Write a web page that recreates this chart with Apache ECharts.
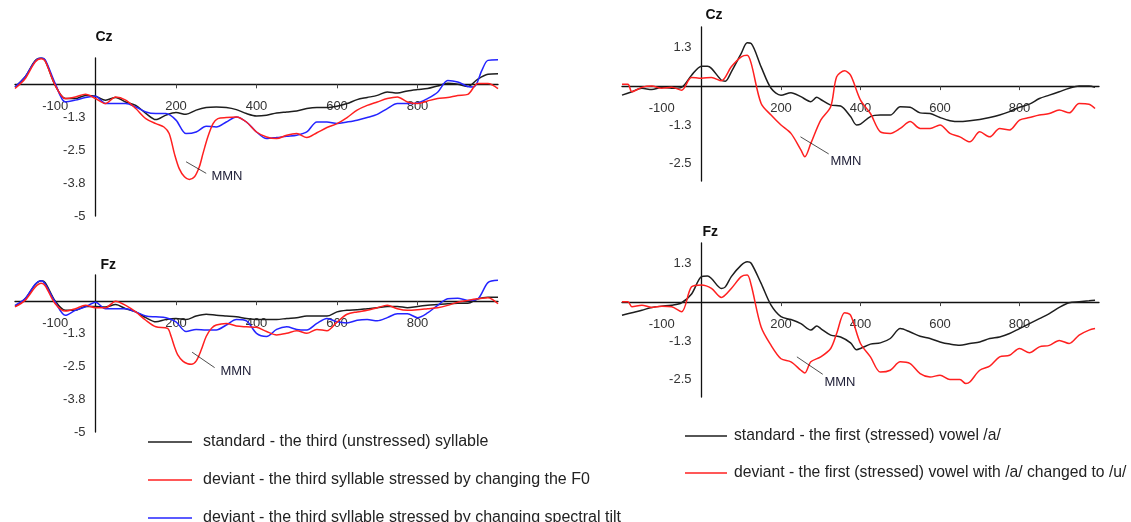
<!DOCTYPE html>
<html>
<head>
<meta charset="utf-8">
<script src="https://cdn.jsdelivr.net/npm/echarts@6/dist/echarts.min.js"></script>
<style>html,body{margin:0;padding:0;background:#fff}#c{width:1131px;height:522px}</style>
</head>
<body>
<div id="c"></div>
<script>
// ---------- names ----------
const leftNames = [
  'standard - the third (unstressed) syllable',
  'deviant - the third syllable stressed by changing the F0',
  'deviant - the third syllable stressed by changing spectral tilt'
];
const rightNames = [
  'standard - the first (stressed) vowel /a/',
  'deviant - the first (stressed) vowel with /a/ changed to /u/'
];
const panelTitles = ['Cz', 'Fz', 'Cz', 'Fz'];

// ---------- tick labels ----------
const xTickValues = [-100, 200, 400, 600, 800];
const xTickMarks = [200, 400, 600, 800];
const yTickValuesLeft = [-5, -3.75, -2.5, -1.25];
const yTickLabelsLeft = ['-5', '-3.8', '-2.5', '-1.3'];
const yTickValuesRight = [-2.5, -1.25, 1.25];
const yTickLabelsRight = ['-2.5', '-1.3', '1.3'];

// ---------- data: [time ms, amplitude] ----------
const leftCzStandard = [[-200,-0.1],[-175,0.28],[-150,0.9],[-135,1.0],[-125,0.9],[-100,-0.04],[-75,-0.54],[-50,-0.54],[-25,-0.42],[0,-0.45],[25,-0.6],[50,-0.5],[75,-0.67],[100,-0.8],[125,-1.1],[150,-1.34],[175,-1.17],[200,-1.07],[225,-1.14],[250,-0.98],[275,-0.88],[300,-0.86],[325,-0.88],[350,-0.96],[375,-1.11],[400,-1.2],[425,-1.17],[450,-1.09],[475,-1.05],[500,-1.01],[525,-0.92],[550,-0.88],[575,-0.88],[600,-0.83],[625,-0.73],[650,-0.58],[675,-0.5],[700,-0.42],[725,-0.29],[750,-0.33],[775,-0.25],[800,-0.2],[825,-0.16],[850,-0.06],[875,0.04],[900,0],[925,-0.08],[950,0.2],[975,0.38],[1000,0.4]];
const leftCzF0 = [[-200,-0.16],[-175,0.21],[-150,0.85],[-135,0.97],[-125,0.88],[-100,-0.04],[-75,-0.54],[-50,-0.48],[-25,-0.38],[0,-0.54],[25,-0.73],[50,-0.48],[75,-0.6],[100,-0.92],[125,-1.3],[150,-1.49],[170,-1.62],[183,-1.87],[196,-2.63],[208,-3.2],[221,-3.51],[233,-3.61],[246,-3.51],[258,-3.13],[267,-2.63],[279,-2.0],[292,-1.49],[304,-1.3],[325,-1.26],[350,-1.24],[375,-1.43],[400,-1.81],[425,-2.0],[450,-2.06],[475,-1.93],[500,-1.87],[525,-2.02],[550,-1.84],[575,-1.64],[600,-1.49],[625,-1.26],[650,-0.98],[675,-0.8],[700,-0.67],[725,-0.54],[750,-0.48],[775,-0.67],[800,-0.73],[825,-0.63],[850,-0.54],[875,-0.5],[900,-0.42],[925,-0.38],[950,0.03],[975,0.03],[1000,-0.16]];
const leftCzTilt = [[-200,-0.1],[-175,0.28],[-150,0.88],[-135,1.0],[-125,0.93],[-100,0.03],[-75,-0.67],[-50,-0.6],[-25,-0.5],[0,-0.45],[25,-0.73],[50,-0.73],[75,-0.73],[100,-0.86],[125,-1.05],[150,-1.11],[175,-1.11],[200,-1.36],[225,-1.87],[250,-1.81],[275,-1.59],[300,-1.62],[325,-1.43],[350,-1.24],[375,-1.43],[400,-1.81],[425,-2.06],[450,-2.02],[475,-1.97],[500,-1.93],[525,-1.81],[550,-1.43],[575,-1.43],[600,-1.49],[625,-1.43],[650,-1.36],[675,-1.26],[700,-1.14],[725,-0.92],[750,-0.73],[775,-0.73],[800,-0.71],[825,-0.54],[850,-0.3],[875,0.15],[900,0.09],[925,-0.08],[940,-0.1],[960,0.53],[975,0.91],[1000,0.93]];

const leftFzStandard = [[-200,-0.2],[-175,0.09],[-150,0.63],[-135,0.78],[-125,0.71],[-100,0],[-75,-0.35],[-50,-0.35],[-25,-0.2],[0,-0.2],[25,-0.22],[50,-0.13],[75,-0.29],[100,-0.41],[125,-0.63],[150,-0.79],[175,-0.7],[200,-0.66],[225,-0.7],[250,-0.57],[275,-0.5],[300,-0.54],[325,-0.57],[350,-0.6],[375,-0.66],[400,-0.7],[425,-0.7],[450,-0.7],[475,-0.66],[500,-0.63],[525,-0.57],[550,-0.57],[575,-0.57],[600,-0.41],[625,-0.35],[650,-0.33],[675,-0.29],[700,-0.25],[725,-0.2],[750,-0.2],[775,-0.25],[800,-0.2],[825,-0.16],[850,-0.13],[875,-0.1],[900,-0.08],[925,-0.08],[950,0.09],[975,0.15],[1000,0.15]];
const leftFzF0 = [[-200,-0.22],[-175,0.03],[-150,0.53],[-135,0.68],[-125,0.59],[-100,-0.1],[-75,-0.38],[-50,-0.29],[-25,-0.16],[0,-0.25],[25,-0.25],[50,0],[75,-0.16],[100,-0.41],[125,-0.73],[150,-0.98],[179,-1.04],[188,-1.35],[196,-1.73],[204,-2.04],[217,-2.29],[229,-2.39],[238,-2.41],[250,-2.29],[263,-1.85],[275,-1.35],[288,-1.04],[300,-0.91],[325,-0.85],[350,-0.95],[375,-0.98],[400,-1.0],[425,-1.16],[450,-1.29],[475,-1.23],[500,-1.13],[525,-1.23],[550,-1.08],[575,-1.13],[600,-0.8],[625,-0.5],[650,-0.41],[675,-0.35],[700,-0.25],[725,-0.16],[750,-0.29],[775,-0.35],[800,-0.33],[825,-0.29],[850,-0.25],[875,-0.16],[900,-0.04],[925,0.03],[950,0.09],[975,0.13],[1000,-0.1]];
const leftFzTilt = [[-200,-0.16],[-175,0.09],[-150,0.65],[-135,0.78],[-125,0.65],[-100,-0.04],[-75,-0.54],[-50,-0.35],[-25,-0.22],[0,-0.04],[25,-0.29],[50,-0.29],[75,-0.29],[100,-0.41],[125,-0.57],[150,-0.6],[175,-0.63],[200,-0.79],[225,-1.16],[250,-1.08],[275,-1.1],[300,-1.1],[325,-0.91],[350,-0.7],[375,-0.75],[400,-1.23],[425,-1.35],[450,-1.08],[475,-0.98],[500,-1.08],[525,-1.1],[550,-0.85],[575,-0.66],[600,-0.79],[625,-0.83],[650,-0.73],[675,-0.7],[700,-0.75],[725,-0.63],[750,-0.48],[775,-0.48],[800,-0.63],[825,-0.45],[850,-0.16],[875,0.09],[900,0.11],[925,0.03],[950,0.09],[975,0.71],[1000,0.8]];

const rightCzStandard = [[-200,-0.29],[-175,-0.18],[-150,-0.07],[-125,-0.11],[-100,-0.04],[-75,-0.07],[-50,-0.04],[-25,0.35],[0,0.64],[15,0.64],[25,0.57],[50,0.19],[60,0.16],[75,0.46],[100,1.05],[115,1.39],[125,1.37],[150,0.62],[175,-0.07],[200,-0.29],[225,-0.21],[250,-0.34],[275,-0.5],[290,-0.36],[300,-0.43],[325,-0.61],[350,-0.64],[375,-0.98],[390,-1.25],[400,-1.22],[425,-0.98],[450,-0.93],[475,-0.93],[500,-0.66],[525,-0.68],[550,-0.86],[575,-0.88],[600,-1.01],[625,-1.11],[650,-1.14],[675,-1.11],[700,-1.07],[725,-1.01],[750,-0.93],[775,-0.82],[800,-0.68],[825,-0.58],[850,-0.4],[875,-0.29],[900,-0.18],[925,-0.07],[950,0],[975,0],[990,-0.04]];
const rightCzDeviant = [[-200,0.06],[-185,0.06],[-175,-0.18],[-150,-0.04],[-125,0],[-100,-0.07],[-75,-0.04],[-50,-0.13],[-25,0.28],[0,0.25],[25,0.28],[50,0.17],[75,0.62],[100,0.94],[115,0.99],[125,0.73],[150,-0.56],[175,-0.93],[200,-1.25],[225,-1.52],[250,-2.05],[260,-2.27],[275,-1.84],[300,-1.09],[325,-0.66],[340,0.3],[360,0.49],[375,0.35],[400,-0.45],[425,-0.88],[450,-1.47],[475,-1.52],[500,-1.36],[525,-1.14],[550,-1.36],[575,-1.36],[600,-1.25],[625,-1.52],[650,-1.63],[675,-1.79],[700,-1.47],[725,-1.63],[750,-1.36],[775,-1.41],[800,-1.09],[825,-1.01],[850,-0.93],[875,-0.88],[900,-0.77],[925,-0.86],[950,-0.56],[975,-0.58],[990,-0.72]];

const rightFzStandard = [[-200,-0.42],[-175,-0.34],[-150,-0.26],[-125,-0.17],[-100,-0.13],[-75,-0.1],[-50,-0.02],[-25,0.26],[0,0.82],[15,0.84],[25,0.76],[50,0.44],[60,0.49],[75,0.82],[100,1.19],[115,1.3],[125,1.25],[150,0.6],[175,-0.1],[200,-0.47],[225,-0.56],[250,-0.69],[275,-0.9],[290,-0.77],[300,-0.85],[325,-1.06],[350,-1.12],[375,-1.31],[390,-1.53],[400,-1.49],[425,-1.35],[450,-1.31],[475,-1.17],[500,-0.85],[525,-0.96],[550,-1.1],[575,-1.17],[600,-1.28],[625,-1.35],[650,-1.39],[675,-1.33],[700,-1.28],[725,-1.17],[750,-1.12],[775,-1.01],[800,-0.85],[825,-0.69],[850,-0.53],[875,-0.37],[900,-0.17],[925,-0.02],[950,0.01],[975,0.04],[990,0.06]];
const rightFzDeviant = [[-200,0.01],[-185,0.01],[-175,-0.15],[-150,-0.1],[-125,-0.17],[-100,-0.13],[-75,-0.15],[-50,-0.31],[-25,0.49],[0,0.55],[25,0.44],[50,0.15],[75,0.44],[100,0.82],[115,0.87],[125,0.55],[150,-0.8],[175,-1.39],[200,-1.82],[225,-1.92],[250,-2.19],[260,-2.28],[275,-1.92],[300,-1.76],[325,-1.49],[340,-1.01],[360,-0.34],[375,-0.42],[400,-1.33],[425,-1.76],[450,-2.25],[475,-2.19],[500,-1.92],[525,-1.98],[550,-2.3],[575,-2.41],[600,-2.35],[625,-2.49],[650,-2.49],[665,-2.62],[675,-2.57],[700,-2.19],[725,-2.06],[750,-1.76],[775,-1.71],[800,-1.49],[825,-1.63],[850,-1.44],[875,-1.39],[900,-1.23],[925,-1.33],[950,-1.06],[975,-0.9],[990,-0.85]];

// MMN annotation leader lines (data space) per panel
const mmnLeftCz = [[225, -2.94], [275, -3.38]];
const mmnLeftFz = [[240, -1.95], [296, -2.54]];
const mmnRightCz = [[249, -1.63], [320, -2.18]];
const mmnRightFz = [[240, -1.76], [305, -2.32]];

// ---------- styling ----------
const FONT = "'Liberation Sans', Arial, sans-serif";
const BLACK = '#1e1e1e', RED = '#ff2020', BLUE = '#2424ff';
const X_MIN = -200, X_MAX = 1000;

const grids = [
  {left: 15, top: 58, width: 483, height: 158},
  {left: 15, top: 275, width: 483, height: 157},
  {left: 622, top: 27, width: 477, height: 154},
  {left: 622, top: 243, width: 477, height: 154}
].map(g => Object.assign(g, {containLabel: false, outerBoundsMode: 'none'}));
const yRanges = [[-5, 1], [-5, 1], [-3.05, 1.9], [-3.05, 1.9]];
const nameGaps = [14, 3, 5, 4];
const namePads = [0, 5, 4, 1];

function fmt(values, labels) {
  return function (v) {
    for (let i = 0; i < values.length; i++) if (Math.abs(values[i] - v) < 1e-6) return labels[i];
    return '';
  };
}

// place each axis on the other axis' zero through the scale fraction
const xAxes = grids.map((g, i) => {
  const [lo, hi] = yRanges[i];
  return {
    type: 'value', gridIndex: i, min: X_MIN, max: X_MAX, position: 'bottom',
    offset: -((0 - lo) / (hi - lo)) * g.height,
    axisLine: {onZero: false, lineStyle: {color: '#111', width: 1.3}},
    axisTick: {show: true, length: 4, customValues: xTickMarks, lineStyle: {color: '#444'}},
    axisLabel: {customValues: xTickValues, margin: 16, fontSize: 13, color: '#333', fontFamily: FONT},
    splitLine: {show: false}
  };
});
const yAxes = grids.map((g, i) => {
  const left = i < 2;
  const vals = left ? yTickValuesLeft : yTickValuesRight;
  const labs = left ? yTickLabelsLeft : yTickLabelsRight;
  return {
    type: 'value', gridIndex: i, min: yRanges[i][0], max: yRanges[i][1], position: 'left',
    offset: -((0 - X_MIN) / (X_MAX - X_MIN)) * g.width,
    axisLine: {onZero: false, lineStyle: {color: '#111', width: 1.3}},
    axisTick: {show: false},
    axisLabel: {customValues: vals, formatter: fmt(vals, labs), margin: 10, fontSize: 13, color: '#333', fontFamily: FONT},
    splitLine: {show: false},
    name: panelTitles[i], nameLocation: 'end', nameGap: nameGaps[i],
    nameTextStyle: {align: 'left', verticalAlign: 'bottom', fontWeight: 'bold', fontSize: 14, color: '#111', fontFamily: FONT, padding: [0, 0, 0, namePads[i]]}
  };
});

function mmn(pts, dist) {
  return {
    silent: true, symbol: ['none', 'none'], animation: false,
    lineStyle: {color: '#222', width: 0.8, type: 'solid'},
    emphasis: {disabled: true},
    label: {show: true, position: 'end', formatter: 'MMN', distance: dist, fontSize: 13, color: '#22223a', fontFamily: FONT},
    data: [[{coord: pts[0]}, {coord: pts[1]}]]
  };
}

function line(name, data, color, gi, mark) {
  const s = {
    type: 'line', name: name, data: data, xAxisIndex: gi, yAxisIndex: gi,
    symbol: 'none', showSymbol: false, smooth: 0.3,
    lineStyle: {color: color, width: 1.5}, itemStyle: {color: color},
    emphasis: {disabled: true}
  };
  if (mark) s.markLine = mark;
  return s;
}

const series = [
  line(leftNames[0], leftCzStandard, BLACK, 0),
  line(leftNames[2], leftCzTilt, BLUE, 0),
  line(leftNames[1], leftCzF0, RED, 0, mmn(mmnLeftCz, 6)),
  line(leftNames[0], leftFzStandard, BLACK, 1),
  line(leftNames[2], leftFzTilt, BLUE, 1),
  line(leftNames[1], leftFzF0, RED, 1, mmn(mmnLeftFz, [7, 6])),
  line(rightNames[0], rightCzStandard, BLACK, 2),
  line(rightNames[1], rightCzDeviant, RED, 2, mmn(mmnRightCz, [2, 15])),
  line(rightNames[0], rightFzStandard, BLACK, 3),
  line(rightNames[1], rightFzDeviant, RED, 3, mmn(mmnRightFz, [2, 15]))
];

const legendCommon = {
  orient: 'vertical', selectedMode: false, padding: 0, height: 200,
  icon: 'rect', itemHeight: 1.6
};

const chart = echarts.init(document.getElementById('c'), null, {renderer: 'canvas'});
chart.setOption({
  animation: false,
  backgroundColor: '#fff',
  grid: grids,
  xAxis: xAxes,
  yAxis: yAxes,
  legend: [
    Object.assign({}, legendCommon, {data: leftNames, left: 148, top: 433, itemGap: 20, itemWidth: 44,
      textStyle: {fontSize: 16, color: '#222', fontFamily: FONT, lineHeight: 18, padding: [0, 0, 0, 6]}}),
    Object.assign({}, legendCommon, {data: rightNames, left: 685, top: 427, itemGap: 19, itemWidth: 42,
      textStyle: {fontSize: 15.7, color: '#222', fontFamily: FONT, lineHeight: 18, padding: [0, 0, 0, 2]}})
  ],
  series: series
});
</script>
</body>
</html>
